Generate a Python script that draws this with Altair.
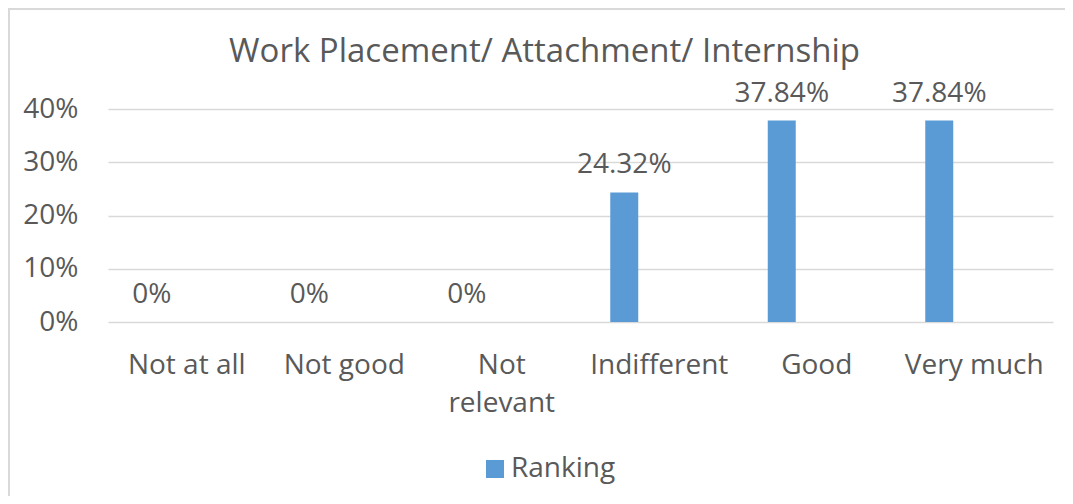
import altair as alt
import pandas as pd

title_text = "Work Placement/ Attachment/ Internship"
categories = ["Not at all", "Not good", "Not relevant", "Indifferent", "Good", "Very much"]
values = [0.0, 0.0, 0.0, 0.2432, 0.3784, 0.3784]
labels = ["0%", "0%", "0%", "24.32%", "37.84%", "37.84%"]
series = "Ranking"

df = pd.DataFrame({"category": categories, "value": values, "label": labels, "series": [series] * len(categories)})

FONT = "Open Sans"
GREY = "#595959"
GRID = "#D9D9D9"
BLUE = "#5B9BD5"

W, H = 945, 213

x = alt.X("category:N", sort=categories,
          scale=alt.Scale(paddingInner=0, paddingOuter=0),
          axis=alt.Axis(title=None, labelAngle=0, ticks=False, domain=False,
                        labelFont=FONT, labelFontSize=28, labelColor=GREY,
                        labelPadding=29, labelLineHeight=38, labelLimit=300,
                        labelExpr="datum.label == 'Not relevant' ? ['Not', 'relevant'] : datum.label"))
xo = alt.XOffset("series:N", scale=alt.Scale(domain=[series, "_"], paddingInner=0, paddingOuter=0.125))
y = alt.Y("value:Q", scale=alt.Scale(domain=[0, 0.4]),
          axis=alt.Axis(title=None, format=".0%", values=[0, 0.1, 0.2, 0.3, 0.4], ticks=False, domain=False,
                        grid=True, gridColor=GRID, gridWidth=1.5,
                        labelFont=FONT, labelFontSize=28, labelColor=GREY, labelPadding=30))

bars = alt.Chart(df).mark_bar(width=28, color=BLUE).encode(
    x=x, xOffset=xo, y=y,
    color=alt.Color("series:N", scale=alt.Scale(domain=[series], range=[BLUE]),
                    legend=alt.Legend(title=None, orient="none", legendX=373, legendY=346,
                                      symbolType="square", symbolSize=324, symbolStrokeWidth=0,
                                      labelFont=FONT, labelFontSize=28, labelColor=GREY,
                                      labelOffset=2, padding=0))
)

text = alt.Chart(df).mark_text(font=FONT, fontSize=28, color=GREY, baseline="alphabetic", dy=-19).encode(
    x=alt.X("category:N", sort=categories), xOffset=alt.XOffset("series:N"), y=alt.Y("value:Q"),
    text="label:N"
)

frame_df = pd.DataFrame({"k": [0]})
title_mark = alt.Chart(pd.DataFrame({"t": [title_text]})).mark_text(
    font=FONT, fontSize=33, color=GREY, baseline="alphabetic", align="center"
).encode(x=alt.value(436.5), y=alt.value(-47), text="t:N")

top_line = alt.Chart(frame_df).mark_rule(color=GRID, strokeWidth=2).encode(
    x=alt.value(-100), x2=alt.value(W + 12), y=alt.value(-100)
)
left_line = alt.Chart(frame_df).mark_rule(color=GRID, strokeWidth=2).encode(
    x=alt.value(-99), y=alt.value(-101), y2=alt.value(H + 180)
)

chart = alt.layer(top_line, left_line, title_mark, bars, text).properties(
    width=W, height=H,
    autosize=alt.AutoSizeParams(type="none"),
    padding={"left": 100, "top": 101, "right": 12, "bottom": 174},
).configure_view(stroke=None)

chart.save("out.html", embed_options={"renderer": "svg", "actions": False})
